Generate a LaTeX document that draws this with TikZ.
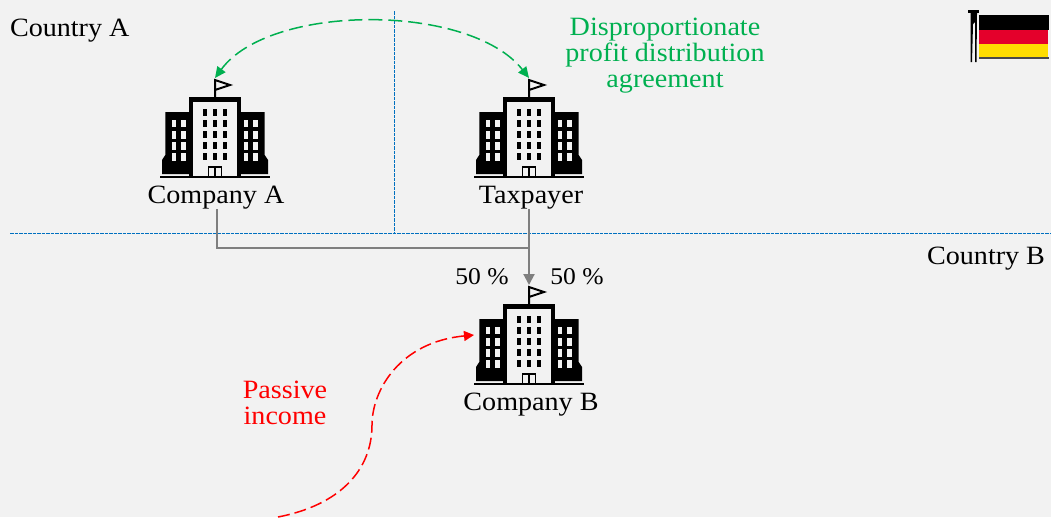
\documentclass[tikz,border=0pt]{standalone}
\usepackage{fontspec}
\setmainfont[FakeStretch=1.065]{Liberation Serif}
\usetikzlibrary{arrows.meta}
\definecolor{bgcol}{HTML}{F2F2F2}
\definecolor{splitblue}{HTML}{0070C0}
\definecolor{dealgreen}{HTML}{00B050}
\definecolor{holdgrey}{HTML}{7F7F7F}
\definecolor{flagred}{HTML}{E4002B}
\definecolor{flaggold}{HTML}{FFDD00}
\tikzset{every picture/.style={x=1pt, y=-1pt, line width=1pt}}
\tikzset{
  txt/.style={inner sep=0pt, outer sep=0pt, align=center, font=\fontsize{26.4}{26}\selectfont},
  share/.style={txt, font=\fontsize{24}{26}\selectfont},
  border/.style={splitblue, line width=1pt, dash pattern=on 3.5pt off 1pt},
  holding/.style={holdgrey, line width=2pt},
  income/.style={red, line width=1.5pt, dash pattern=on 12pt off 5pt, -{Triangle[length=10pt, width=10pt]}},
  deal/.style={dealgreen, line width=1.5pt, dash pattern=on 14pt off 6pt, {Triangle[length=11pt, width=10pt]}-{Triangle[length=11pt, width=10pt]}},
  building/.pic={
    % wings
    \fill[black] (-49.7,-65) -- (-22,-65) -- (-22,-3) -- (-53,-3) -- (-53,-17) -- (-49.7,-22) -- cycle;
    \fill[black] (49.7,-65) -- (22,-65) -- (22,-3) -- (53,-3) -- (53,-17) -- (49.7,-22) -- cycle;
    % tower
    \draw[line width=4.5pt, fill=bgcol] (-24,0) -- (-24,-77.5) -- (24,-77.5) -- (24,0);
    \foreach \y in {-64.3,-53.3,-42.3,-31.3,-20.3} {
      \foreach \x in {-10,0,10} {
        \fill[black] (\x-2.2,\y-3.3) rectangle (\x+2.2,\y+3.3);
      }
    }
    \foreach \y in {-53.3,-42,-31,-20} {
      \foreach \x in {-41,-31.3,31,40.7} {
        \fill[bgcol] (\x-2.4,\y-3.6) rectangle (\x+2.4,\y+3.6);
      }
    }
    % door
    \draw[line width=1.5pt] (-6.5,0) rectangle (6.5,-10);
    \draw[line width=1.5pt] (0,0) -- (0,-10);
    % ground
    \draw[line width=1.5pt] (-55,0) -- (55,0);
    % flag
    \draw[line width=2pt] (0,-78) -- (0,-97) -- (15,-92) -- (0,-87);
    \coordinate (-top) at (0,-99);
  },
}
\begin{document}
\begin{tikzpicture}
  \useasboundingbox[fill=bgcol] (0,0) rectangle (1051,517);
  % country split
  \draw[border] (394,11) -- (394,233);
  \draw[border] (10,233) -- (1051,233);
  \node[txt, anchor=west] (countryA) at (10,31) {Country A};
  \node[txt, anchor=east] (countryB) at (1045,259) {Country B};
  % companies
  \pic (a) at (215,177) {building};
  \pic (t) at (529,177) {building};
  \pic (b) at (529,384) {building};
  \node[txt] (labelA) at (216,198) {Company A};
  \node[txt] (labelT) at (531,198) {Taxpayer};
  \node[txt] (labelB) at (531,405) {Company B};
  % holding lines
  \coordinate (join) at (b-top |- 0,247.5);
  \draw[holding] (217,209) |- (join);
  \draw[holding, -{Triangle[length=11pt, width=11pt]}] (b-top |- labelT.south) -- (b-top);
  \node[share] (shareA) at (482,277) {50 \%};
  \node[share] (shareT) at (577,277) {50 \%};
  % agreement
  \draw[deal] (a-top) .. controls (270,3) and (470,3) .. (t-top);
  \node[txt, dealgreen] (deal) at (665,56) {Disproportionate\\profit distribution\\agreement};
  % passive income
  \coordinate (source) at (278,517);
  \node[txt, red] (passive) at (285,403) {Passive\\income};
  \draw[income] (source) .. controls (340,505) and (372,470) .. (372,425) .. controls (372,390) and (400,342) .. (474,335);
  % flag
  \fill[black] (968,10) rectangle (979,13);
  \fill[black] (970.5,13) -- (977,13) -- (976.5,62) -- (975,62) -- (975,22) -- (973,24) -- (972,62) -- (970.5,62) -- cycle;
  \fill[black!70!bgcol] (979,57) rectangle (1049,59);
  \fill[black] (979,15) rectangle (1049,30);
  \fill[flagred] (979,30) rectangle (1048,44);
  \fill[flaggold] (979,44) rectangle (1048,57);
\end{tikzpicture}
\end{document}
